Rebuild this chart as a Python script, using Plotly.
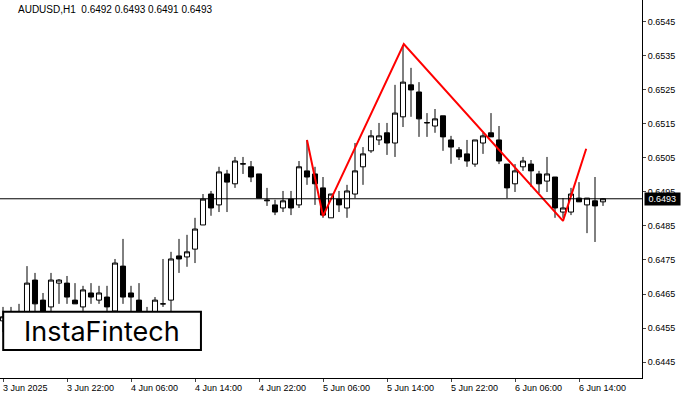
import plotly.graph_objects as go

opens = [0.64571,0.64571,0.64538,0.64553,0.64691,0.64632,0.64612,0.64682,0.64682,0.64632,
 0.64612,0.64653,0.64632,0.64641,0.64600,0.64732,0.64653,0.64632,0.64562,0.64562,
 0.64621,0.64632,0.64762,0.64759,0.64782,0.64853,0.64944,0.64912,0.65003,0.64974,
 0.65032,0.65024,0.65003,0.64924,0.64912,0.64903,0.64929,0.64912,0.65012,0.65003,
 0.64962,0.64874,0.64929,0.64903,0.64944,0.65024,0.65071,0.65103,0.65124,0.65094,
 0.65171,0.65265,0.65244,0.65153,0.65144,0.65174,0.65103,0.65074,0.65062,0.65032,
 0.65094,0.65124,0.65103,0.65032,0.64974,0.65024,0.65032,0.65003,0.64982,0.64994,
 0.64891,0.64891,0.64932,0.64912,0.64924,0.64921]
highs = [0.64612,0.64612,0.64621,0.64732,0.64712,0.64653,0.64712,0.64694,0.64703,0.64682,
 0.64674,0.64682,0.64674,0.64674,0.64753,0.64812,0.64674,0.64682,0.64612,0.64641,
 0.64753,0.64774,0.64812,0.64824,0.64874,0.64944,0.64953,0.65024,0.65015,0.65053,
 0.65053,0.65041,0.65003,0.64962,0.64927,0.64953,0.64953,0.65041,0.65103,0.65024,
 0.64994,0.64944,0.64953,0.64971,0.65094,0.65082,0.65132,0.65153,0.65153,0.65265,
 0.65382,0.65315,0.65273,0.65182,0.65194,0.65174,0.65115,0.65082,0.65103,0.65103,
 0.65124,0.65182,0.65144,0.65032,0.65032,0.65053,0.65044,0.65012,0.65053,0.64994,
 0.64932,0.64962,0.64979,0.64932,0.64994,0.64932]
lows = [0.64538,0.64515,0.64515,0.64515,0.64591,0.64562,0.64600,0.64621,0.64621,0.64621,
 0.64568,0.64621,0.64621,0.64580,0.64538,0.64621,0.64580,0.64553,0.64515,0.64538,
 0.64612,0.64591,0.64712,0.64730,0.64741,0.64853,0.64880,0.64891,0.64891,0.64962,
 0.65003,0.64979,0.64932,0.64909,0.64882,0.64891,0.64882,0.64903,0.64971,0.64912,
 0.64874,0.64874,0.64891,0.64874,0.64932,0.64971,0.65065,0.65088,0.65059,0.65053,
 0.65141,0.65171,0.65112,0.65112,0.65124,0.65071,0.65033,0.65044,0.65024,0.65024,
 0.65062,0.65112,0.65032,0.64932,0.64950,0.65012,0.64965,0.64947,0.64950,0.64874,
 0.64874,0.64882,0.64921,0.64829,0.64803,0.64909]
closes = [0.64583,0.64533,0.64539,0.64682,0.64621,0.64600,0.64691,0.64691,0.64641,0.64621,
 0.64662,0.64641,0.64653,0.64612,0.64741,0.64641,0.64641,0.64568,0.64568,0.64632,
 0.64621,0.64753,0.64753,0.64774,0.64841,0.64929,0.64903,0.65009,0.64979,0.65041,
 0.65033,0.64994,0.64932,0.64926,0.64891,0.64924,0.64903,0.65024,0.64994,0.64974,
 0.64882,0.64944,0.64912,0.64953,0.65012,0.65062,0.65115,0.65115,0.65094,0.65182,
 0.65273,0.65250,0.65165,0.65154,0.65165,0.65112,0.65082,0.65053,0.65041,0.65103,
 0.65115,0.65112,0.65041,0.64962,0.65012,0.65041,0.65012,0.64974,0.65003,0.64903,
 0.64903,0.64944,0.64921,0.64932,0.64909,0.64930]

tick_idx = [0, 8, 16, 24, 32, 40, 48, 56, 64, 72]
tick_text = ["3 Jun 2025", "3 Jun 22:00", "4 Jun 06:00", "4 Jun 14:00", "4 Jun 22:00",
             "5 Jun 06:00", "5 Jun 14:00", "5 Jun 22:00", "6 Jun 06:00", "6 Jun 14:00"]
price_ticks = [0.6445, 0.6455, 0.6465, 0.6475, 0.6485, 0.6495, 0.6505, 0.6515, 0.6525, 0.6535, 0.6545]

pattern_x = [38, 40, 50.1, 70, 72.9]
pattern_y = [0.65103, 0.64879, 0.65385, 0.64865, 0.65077]
current = 0.6493

x = list(range(len(opens)))
fig = go.Figure()
fig.add_trace(go.Candlestick(x=x, open=opens, high=highs, low=lows, close=closes,
    increasing=dict(line=dict(color="black", width=1), fillcolor="white"),
    decreasing=dict(line=dict(color="black", width=1), fillcolor="black"),
    whiskerwidth=0, showlegend=False, hoverinfo="skip"))
fig.add_trace(go.Scatter(x=pattern_x, y=pattern_y, mode="lines",
    line=dict(color="#ff0000", width=2), showlegend=False, hoverinfo="skip"))
fig.add_hline(y=current, line=dict(color="black", width=1))

fig.add_annotation(x=1, xref="paper", y=current, yref="y", text=" 0.6493 ", showarrow=False,
    xanchor="left", bgcolor="black", font=dict(color="white", size=9), borderpad=1, xshift=2)
fig.add_annotation(x=0.025, xref="paper", y=0.995, yref="paper", xanchor="left", yanchor="top",
    text="AUDUSD,H1  0.6492 0.6493 0.6491 0.6493", showarrow=False, font=dict(size=10, color="black"))
for i, t in zip(tick_idx, tick_text):
    fig.add_annotation(x=i, xref="x", y=0, yref="paper", yanchor="top", xanchor="left",
        text=t, showarrow=False, font=dict(size=9, color="black"), yshift=-3, xshift=-2)
fig.add_shape(type="rect", xref="paper", yref="paper", x0=0.005, x1=0.313, y0=0.074, y1=0.175,
    fillcolor="white", line=dict(color="black", width=2), layer="above")
fig.add_annotation(x=0.159, xref="paper", y=0.124, yref="paper", yanchor="middle", xanchor="center",
    text="InstaFintech", showarrow=False, font=dict(size=27, color="black", family="Inter"))

fig.update_layout(
    width=700, height=400, margin=dict(l=0, r=58, t=0, b=22),
    plot_bgcolor="white", paper_bgcolor="white", boxgap=0.1,
    font=dict(family="Liberation Sans", color="black", size=9),
    xaxis=dict(range=[-0.375, 79.875], rangeslider=dict(visible=False), showgrid=False,
               tickvals=tick_idx, ticktext=[""]*len(tick_idx), ticks="outside", ticklen=3,
               showline=True, linecolor="black", mirror=True, zeroline=False),
    yaxis=dict(range=[0.64403, 0.655145], side="right", tickvals=price_ticks,
               ticktext=[f"{v:.4f}" for v in price_ticks], ticks="outside", ticklen=3,
               showgrid=False, showline=True, linecolor="black", mirror=True, zeroline=False),
)
fig.write_html("out.html", config={"displayModeBar": False},
               post_script="document.body.style.margin='0';document.body.style.overflow='hidden';")
